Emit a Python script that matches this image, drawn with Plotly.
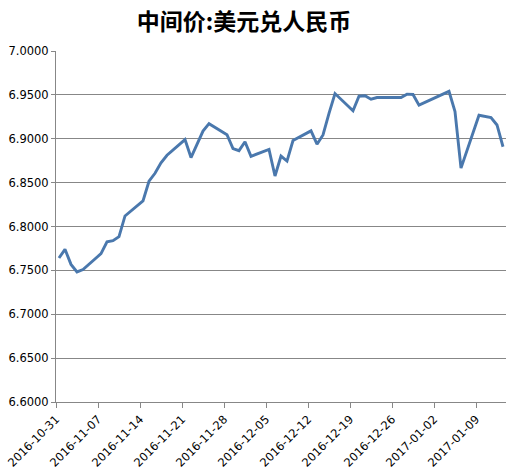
import pandas as pd
import plotly.graph_objects as go

dates = [
    "2016-10-31", "2016-11-01", "2016-11-02", "2016-11-03", "2016-11-04",
    "2016-11-07", "2016-11-08", "2016-11-09", "2016-11-10", "2016-11-11",
    "2016-11-14", "2016-11-15", "2016-11-16", "2016-11-17", "2016-11-18",
    "2016-11-21", "2016-11-22", "2016-11-23", "2016-11-24", "2016-11-25",
    "2016-11-28", "2016-11-29", "2016-11-30", "2016-12-01", "2016-12-02",
    "2016-12-05", "2016-12-06", "2016-12-07", "2016-12-08", "2016-12-09",
    "2016-12-12", "2016-12-13", "2016-12-14", "2016-12-15", "2016-12-16",
    "2016-12-19", "2016-12-20", "2016-12-21", "2016-12-22", "2016-12-23",
    "2016-12-26", "2016-12-27", "2016-12-28", "2016-12-29", "2016-12-30",
    "2017-01-03", "2017-01-04", "2017-01-05", "2017-01-06",
    "2017-01-09", "2017-01-10", "2017-01-11", "2017-01-12", "2017-01-13",
]
rates = [
    6.7641, 6.7740, 6.7568, 6.7482, 6.7510,
    6.7690, 6.7826, 6.7838, 6.7884, 6.8120,
    6.8291, 6.8516, 6.8606, 6.8725, 6.8812,
    6.8990, 6.8786, 6.8930, 6.9088, 6.9172,
    6.9046, 6.8889, 6.8864, 6.8966, 6.8800,
    6.8878, 6.8575, 6.8803, 6.8746, 6.8980,
    6.9090, 6.8938, 6.9043, 6.9290, 6.9515,
    6.9318, 6.9485, 6.9489, 6.9450, 6.9470,
    6.9470, 6.9470, 6.9508, 6.9504, 6.9383,
    6.9512, 6.9540, 6.9309, 6.8665,
    6.9268, 6.9250, 6.9240, 6.9157, 6.8909,
]
tick_labels = [
    "2016-10-31", "2016-11-07", "2016-11-14", "2016-11-21", "2016-11-28",
    "2016-12-05", "2016-12-12", "2016-12-19", "2016-12-26", "2017-01-02",
    "2017-01-09",
]
y_ticks = [6.60, 6.65, 6.70, 6.75, 6.80, 6.85, 6.90, 6.95, 7.00]

title_text = "中间价:美元兑人民币"

# Excel-like "between tick marks": ticks sit half a day before each point
tick_pos = [d - pd.Timedelta(hours=12) for d in pd.to_datetime(tick_labels)]

fig = go.Figure()
fig.add_trace(go.Scatter(
    x=pd.to_datetime(dates), y=rates, mode="lines",
    line=dict(color="#4a78ad", width=2.9),
    hoverinfo="skip",
))

fig.update_layout(
    width=514, height=473,
    margin=dict(l=56, r=8, t=51, b=71, autoexpand=False),
    paper_bgcolor="white", plot_bgcolor="white",
    showlegend=False,
    font=dict(family="DejaVu Sans", size=11, color="#000000"),
    title=dict(
        text="<b>" + title_text + "</b>",
        x=244 / 514, xanchor="center", xref="container",
        y=1 - 22 / 473, yanchor="middle", yref="container",
        font=dict(family="Noto Sans CJK SC", size=23, color="#000000"),
    ),
)

fig.update_xaxes(
    type="date", automargin=False,
    range=[pd.Timestamp("2016-10-30 12:00"), pd.Timestamp("2017-01-13 12:00")],
    tickmode="array", tickvals=tick_pos, ticktext=tick_labels,
    tickangle=-45, ticks="outside", ticklen=5, tickcolor="#878787",
    showgrid=False, showline=True, linecolor="#878787", linewidth=1,
    zeroline=False, tickfont=dict(size=11.5),
)
fig.update_yaxes(
    range=[6.6, 7.0], tickmode="array", tickvals=y_ticks, automargin=False,
    ticktext=[f"{v:.4f}" for v in y_ticks],
    ticks="outside", ticklen=4, tickcolor="#878787",
    showgrid=True, gridcolor="#878787", gridwidth=1,
    showline=True, linecolor="#878787", linewidth=1,
    zeroline=False, tickfont=dict(size=11.5),
)

fig.write_html(
    "out.html",
    config={"displayModeBar": False, "staticPlot": True},
    post_script="document.body.style.margin='0';document.body.style.overflow='hidden';",
)
